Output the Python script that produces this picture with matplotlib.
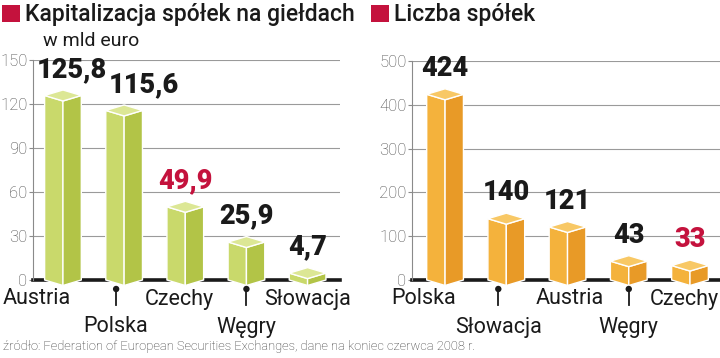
import numpy as np
import matplotlib
matplotlib.use("Agg")
import matplotlib.pyplot as plt
from matplotlib.patches import Polygon, Rectangle, Circle

plt.rcParams["font.family"] = ["Roboto", "DejaVu Sans"]

# --- data ---
cap_countries = ["Austria", "Polska", "Czechy", "Węgry", "Słowacja"]
cap_values = [125.8, 115.6, 49.9, 25.9, 4.7]
cap_labels = ["125,8", "115,6", "49,9", "25,9", "4,7"]
cap_ticks = [0, 30, 60, 90, 120, 150]

cnt_countries = ["Polska", "Słowacja", "Austria", "Węgry", "Czechy"]
cnt_values = [424, 140, 121, 43, 33]
cnt_labels = ["424", "140", "121", "43", "33"]
cnt_ticks = [0, 100, 200, 300, 400, 500]

highlight = "Czechy"

W, H = 720, 358
RED = "#c4123d"
INK = "#1a1a1a"
GREEN = ("#c9d96b", "#b2c447", "#dce795")   # left, right, top
ORANGE = ("#f4b23c", "#e89a27", "#f8c865")


def px(x0, y0, w, h):
    # pixel box (from top-left) -> figure fraction rect
    return [x0 / W, 1 - (y0 + h) / H, w / W, h / H]


def box(ax, c, v, colors, w=0.30, dpx=5.5):
    y0, y1 = ax.get_ylim()
    d = dpx * (y1 - y0) / (ax.bbox.height)
    left = [(c - w, 0), (c, -d), (c, v - d), (c - w, v)]
    right = [(c, -d), (c + w, 0), (c + w, v), (c, v - d)]
    top = [(c - w, v), (c, v - d), (c + w, v), (c, v + d)]
    for pts, col in zip([left, right, top], colors):
        ax.add_patch(Polygon(pts, closed=True, facecolor=col, edgecolor="white",
                             lw=1.0, zorder=3, clip_on=False, joinstyle="round"))
    return d


def panel(ax, countries, values, labels, ticks, colors, xlim, val_nudge, name_nudge):
    ax.set_xlim(*xlim)
    ax.set_ylim(ticks[0], ticks[-1])
    ax.set_yticks(ticks)
    ax.set_xticks([])
    ax.tick_params(axis="y", length=3, width=0.8, color="#8a8a8a", pad=1,
                   labelsize=12, labelcolor="#4a4a4a")
    for lab in ax.get_yticklabels():
        lab.set_fontweight("light")
    for s in ["top", "right", "bottom"]:
        ax.spines[s].set_visible(False)
    ax.spines["left"].set_color("#8a8a8a")
    ax.spines["left"].set_linewidth(0.8)
    ax.grid(axis="y", color="#9a9a9a", lw=0.8, zorder=0)
    ax.set_axisbelow(True)
    ax.axhline(0, color=INK, lw=2.6, zorder=2, clip_on=False)

    for i, (name, v, lab) in enumerate(zip(countries, values, labels)):
        d = box(ax, i, v, colors)
        col = RED if name == highlight else INK
        ax.annotate(lab, xy=(i, v + d), xytext=(val_nudge[i], 7), textcoords="offset pixels",
                    ha="center", va="bottom", fontsize=19.5, fontweight="heavy", color=col,
                    annotation_clip=False)
        dy = -19 if i % 2 == 0 else -47
        ax.annotate(name, xy=(i, 0), xytext=(name_nudge[i], dy), textcoords="offset pixels",
                    ha="center", va="center", fontsize=15.5, color=INK,
                    annotation_clip=False)


fig = plt.figure(figsize=(W / 100, H / 100), dpi=100)
ax1 = fig.add_axes(px(33, 60, 307, 220))
ax2 = fig.add_axes(px(412, 61, 308, 219))

name_nudge1 = [-26, -8, -6, 0, 0]
name_nudge2 = [-21, -8, 2, 0, -6]
panel(ax1, cap_countries, cap_values, cap_labels, cap_ticks, GREEN,
      (-0.49, 4.53), [9, 20, 0, 0, 0], name_nudge1)
panel(ax2, cnt_countries, cnt_values, cnt_labels, cnt_ticks, ORANGE,
      (-0.54, 4.49), [0, 0, 0, 0, 0], name_nudge2)

# pins above the second-row labels
for ax, nud in ((ax1, name_nudge1), (ax2, name_nudge2)):
    for i in (1, 3):
        xp, yp = ax.transData.transform((i, 0))
        xp += nud[i]
        fig.add_artist(plt.Line2D([xp / W, xp / W], [(yp - 9) / H, (yp - 25) / H],
                                  color=INK, lw=1.3))
        fig.add_artist(Circle((xp, yp - 9), 3.2, transform=None,
                              facecolor=INK, edgecolor="none"))

# titles
fig.add_artist(Rectangle((2 / W, 1 - 22 / H), 18 / W, 17 / H, transform=fig.transFigure,
                         facecolor=RED, edgecolor="none"))
fig.text(25 / W, 1 - 21 / H, "Kapitalizacja spółek na giełdach", fontsize=16.5,
         fontweight="medium", color=INK, va="baseline")
fig.text(43 / W, 1 - 46 / H, "w mld euro", fontsize=14, color=INK, va="baseline")

fig.add_artist(Rectangle((371 / W, 1 - 22 / H), 18 / W, 17 / H, transform=fig.transFigure,
                         facecolor=RED, edgecolor="none"))
fig.text(394 / W, 1 - 21 / H, "Liczba spółek", fontsize=16.5,
         fontweight="medium", color=INK, va="baseline")

fig.text(3 / W, 1 - 350 / H,
         "źródło: Federation of European Securities Exchanges, dane na koniec czerwca 2008 r.",
         fontsize=9.3, fontweight="light", color="#333333", va="baseline")

fig.savefig("out.png", dpi=100)
